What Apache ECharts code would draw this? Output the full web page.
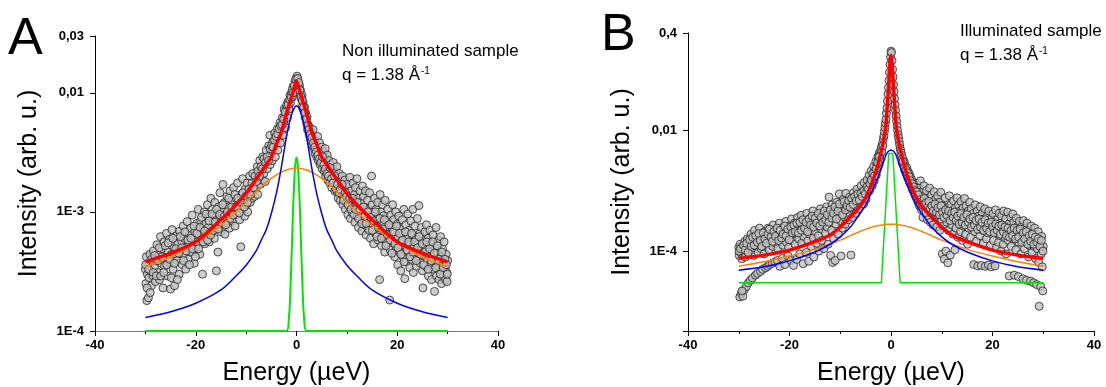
<!DOCTYPE html>
<html>
<head>
<meta charset="utf-8">
<script src="https://cdn.jsdelivr.net/npm/echarts@6/dist/echarts.min.js"></script>
<style>
  html, body { margin: 0; padding: 0; background: #fff; }
  #chart { width: 1106px; height: 387px; }
</style>
</head>
<body>
<div id="chart"></div>
<script>
// ---- panel A (non illuminated) ----
const energyA = [-30, -25, -20, -15, -12, -10, -8, -7, -6, -5, -4, -3, -2, -1.5, -1, -0.5, 0, 0.5, 1, 1.5, 2, 3, 4, 5, 6, 7, 8, 10, 12, 15, 20, 25, 30];
const totalFitA = [3.8e-4, 4.5e-4, 5.6e-4, 8.6e-4, 1.15e-3, 1.43e-3, 1.88e-3, 2.16e-3, 2.5e-3, 2.89e-3, 3.7e-3, 4.7e-3, 6.7e-3, 7.9e-3, 9.2e-3, 1.08e-2, 1.25e-2, 1.08e-2, 9.2e-3, 7.9e-3, 6.7e-3, 4.7e-3, 3.7e-3, 2.89e-3, 2.5e-3, 2.16e-3, 1.88e-3, 1.43e-3, 1.15e-3, 8.6e-4, 5.6e-4, 4.5e-4, 3.8e-4];
const lorentzA = [1.3e-4, 1.45e-4, 1.71e-4, 2.21e-4, 2.9e-4, 3.57e-4, 4.7e-4, 5.8e-4, 7.1e-4, 9.7e-4, 1.43e-3, 2.38e-3, 4.26e-3, 5.4e-3, 6.5e-3, 7.4e-3, 7.8e-3, 7.4e-3, 6.5e-3, 5.4e-3, 4.26e-3, 2.38e-3, 1.43e-3, 9.7e-4, 7.1e-4, 5.8e-4, 4.7e-4, 3.57e-4, 2.9e-4, 2.21e-4, 1.71e-4, 1.45e-4, 1.3e-4];
const broadA = [3.46e-4, 4.2e-4, 5.5e-4, 7.7e-4, 1.0e-3, 1.21e-3, 1.48e-3, 1.62e-3, 1.77e-3, 1.91e-3, 2.05e-3, 2.16e-3, 2.25e-3, 2.28e-3, 2.31e-3, 2.33e-3, 2.34e-3, 2.33e-3, 2.31e-3, 2.28e-3, 2.25e-3, 2.16e-3, 2.05e-3, 1.91e-3, 1.77e-3, 1.62e-3, 1.48e-3, 1.21e-3, 1.0e-3, 7.7e-4, 5.5e-4, 4.2e-4, 3.46e-4];
const elasticEnergyA = [-30, -2, -1.5, -1.25, -1, -0.75, -0.5, -0.25, 0, 0.25, 0.5, 0.75, 1, 1.25, 1.5, 2, 30];
const elasticA = [1e-4, 1e-4, 1.3e-4, 2.0e-4, 4.0e-4, 8.5e-4, 1.65e-3, 2.5e-3, 2.86e-3, 2.5e-3, 1.65e-3, 8.5e-4, 4.0e-4, 2.0e-4, 1.3e-4, 1e-4, 1e-4];
const pointsA = [
  [-30,3.3e-4],[-29.9,2.5e-4],[-29.8,4.2e-4],[-29.7,1.8e-4],[-29.6,3.0e-4],[-29.5,3.7e-4],[-29.4,1.9e-4],[-29.3,2.8e-4],[-29.1,4.4e-4],[-29,3.2e-4],[-28.8,2.4e-4],[-28.7,3.8e-4],[-28.5,2.9e-4],[-28.4,4.7e-4],[-28.2,3.4e-4],[-28,2.6e-4],[-27.9,4.0e-4],
  [-27.7,5.3e-4],[-27.5,3.1e-4],[-27.3,4.4e-4],[-27.2,2.7e-4],[-27,6.2e-4],[-26.8,3.7e-4],[-26.7,4.9e-4],[-26.5,2.3e-4],[-26.3,5.6e-4],[-26.2,3.5e-4],[-26,4.1e-4],[-25.8,6.6e-4],[-25.7,2.9e-4],[-25.5,4.6e-4],[-25.3,3.8e-4],[-25.2,5.9e-4],[-25,2.25e-4],[-24.8,4.4e-4],[-24.7,7.1e-4],[-24.5,3.3e-4],[-24.3,5.0e-4],[-24.2,2.4e-4],[-24,4.2e-4],[-23.8,6.3e-4],[-23.7,3.9e-4],[-23.5,5.4e-4],[-23.3,3.0e-4],[-23.2,6.9e-4],[-23,4.7e-4],[-22.8,5.7e-4],[-22.7,3.6e-4],[-22.5,7.6e-4],[-22.3,4.4e-4],[-22.2,6.0e-4],[-22,3.3e-4],[-21.8,5.1e-4],[-21.7,8.3e-4],[-21.5,4.0e-4],[-21.3,6.5e-4],[-21.2,5.3e-4],[-21,7.3e-4],[-20.8,4.6e-4],[-20.7,9.4e-4],[-20.5,5.9e-4],[-20.3,3.7e-4],[-20.2,6.8e-4],[-20,5.0e-4],
  [-19.8,8.0e-4],[-19.7,5.6e-4],[-19.5,1.05e-3],[-19.3,6.3e-4],[-19.2,4.4e-4],[-19,8.5e-4],[-18.8,5.9e-4],[-18.65,3.0e-4],[-18.5,7.1e-4],[-18.3,1.0e-3],[-18.2,5.4e-4],[-18,8.0e-4],[-17.8,6.6e-4],[-17.7,1.15e-3],[-17.5,7.4e-4],[-17.3,5.6e-4],[-17.2,9.2e-4],[-17,1.3e-3],[-16.8,6.9e-4],[-16.7,1.05e-3],[-16.5,8.3e-4],[-16.3,6.0e-4],[-16.2,1.2e-3],[-16,9.0e-4],[-15.9,3.2e-4],[-15.8,7.5e-4],[-15.6,4.6e-4],[-15.5,1.1e-3],[-15.3,8.6e-4],[-15.2,1.45e-3],[-15,6.8e-4],[-14.8,1.0e-3],[-14.6,1.7e-3],[-14.5,8.0e-4],[-14.3,1.2e-3],[-14.2,6.5e-4],[-14,9.5e-4],[-13.8,1.35e-3],[-13.7,8.2e-4],[-13.5,1.1e-3],[-13.3,7.3e-4],[-13.2,1.5e-3],[-13,9.8e-4],[-12.8,1.25e-3],[-12.7,8.4e-4],[-12.5,1.6e-3],[-12.3,1.05e-3],[-12.2,7.6e-4],[-12,1.3e-3],[-11.8,9.6e-4],[-11.7,1.75e-3],[-11.5,1.15e-3],[-11.3,8.6e-4],[-11.05,5.1e-4],[-11,1.4e-3],[-10.8,1.05e-3],[-10.7,1.9e-3],[-10.5,1.25e-3],[-10.3,9.2e-4],[-10.2,1.55e-3],[-10,1.15e-3],
  [-9.8,1.75e-3],[-9.7,1.0e-3],[-9.5,1.4e-3],[-9.3,2.0e-3],[-9.2,1.2e-3],[-9,1.6e-3],[-8.8,1.3e-3],[-8.7,2.1e-3],[-8.5,1.5e-3],[-8.3,1.35e-3],[-8.2,1.85e-3],[-8,1.6e-3],[-7.8,2.4e-3],[-7.7,1.4e-3],[-7.5,1.95e-3],[-7.3,2.7e-3],[-7.2,1.7e-3],[-7,2.2e-3],[-6.8,1.85e-3],[-6.7,2.9e-3],[-6.5,2.1e-3],[-6.3,2.5e-3],[-6.2,1.8e-3],[-6,3.3e-3],[-5.8,2.3e-3],[-5.7,2.8e-3],[-5.5,3.6e-3],[-5.3,4.4e-3],[-5.2,2.5e-3],[-5,3.1e-3],[-4.8,2.7e-3],[-4.7,3.9e-3],[-4.5,3.3e-3],[-4.3,4.6e-3],[-4.2,2.9e-3],[-4,3.7e-3],[-3.8,5.0e-3],[-3.7,3.3e-3],[-3.5,4.2e-3],[-3.3,5.6e-3],[-3.2,3.8e-3],[-3,4.8e-3],[-2.8,6.2e-3],[-2.7,4.4e-3],[-2.5,5.5e-3],[-2.45,7.3e-3],[-2.3,6.5e-3],[-2.2,5.1e-3],[-2,7.4e-3],[-1.8,6.2e-3],[-1.7,8.4e-3],[-1.5,7.3e-3],[-1.3,9.5e-3],[-1.2,8.2e-3],[-1,1.0e-2],[-0.8,9.2e-3],[-0.7,1.12e-2],[-0.5,1.05e-2],[-0.3,1.25e-2],[-0.2,1.18e-2],[0,1.33e-2],
  [0.1,1.38e-2],[0.2,1.28e-2],[0.3,1.2e-2],[0.5,1.1e-2],[0.6,1.15e-2],[0.7,9.8e-3],[0.8,1.05e-2],[1,8.8e-3],[1.1,9.5e-3],[1.2,7.8e-3],[1.3,8.4e-3],[1.5,7.0e-3],[1.6,7.6e-3],[1.7,6.2e-3],[1.8,6.8e-3],[2,5.6e-3],[2.1,6.3e-3],[2.2,4.9e-3],[2.3,5.4e-3],[2.5,4.5e-3],[2.6,5.1e-3],[2.7,4.2e-3],[2.8,4.7e-3],[3,3.9e-3],[3.1,4.4e-3],[3.2,3.6e-3],[3.3,4.9e-3],[3.5,3.4e-3],[3.6,4.0e-3],[3.7,3.1e-3],[3.8,3.7e-3],[4,2.9e-3],[4.1,3.4e-3],[4.2,4.3e-3],[4.3,2.7e-3],[4.5,3.2e-3],[4.6,3.8e-3],[4.7,2.5e-3],[4.8,2.9e-3],[5,3.5e-3],[5.1,2.3e-3],[5.2,2.7e-3],[5.3,3.2e-3],[5.5,2.2e-3],[5.6,2.9e-3],[5.7,3.4e-3],[5.8,2.0e-3],[6,2.5e-3],[6.1,3.0e-3],[6.2,1.85e-3],[6.3,2.3e-3],[6.5,2.7e-3],[6.6,1.75e-3],[6.7,2.1e-3],[6.8,2.5e-3],[7,1.6e-3],[7.1,1.95e-3],[7.2,2.3e-3],[7.3,2.6e-3],[7.5,1.8e-3],[7.6,1.5e-3],[7.7,2.15e-3],[7.8,1.7e-3],[8,2.4e-3],[8.1,1.45e-3],[8.2,1.9e-3],[8.3,1.3e-3],[8.5,2.1e-3],[8.6,1.6e-3],[8.7,1.25e-3],[8.8,1.8e-3],[9,1.4e-3],[9.1,2.0e-3],[9.2,1.15e-3],[9.3,1.65e-3],[9.5,1.3e-3],[9.6,1.85e-3],[9.7,1.05e-3],[9.8,1.5e-3],
  [10,1.2e-3],[10.1,1.7e-3],[10.2,9.5e-4],[10.3,1.35e-3],[10.5,1.1e-3],[10.6,1.95e-3],[10.7,8.8e-4],[10.8,1.5e-3],[11,1.25e-3],[11.1,9.8e-4],[11.2,1.75e-3],[11.3,1.1e-3],[11.5,1.4e-3],[11.6,8.2e-4],[11.7,1.6e-3],[11.8,1.15e-3],[12,1.9e-3],[12.1,9.2e-4],[12.2,1.3e-3],[12.3,7.4e-4],[12.5,1.05e-3],[12.6,1.5e-3],[12.7,8.5e-4],[12.8,1.2e-3],[13,6.9e-4],[13.1,1.65e-3],[13.2,9.6e-4],[13.3,1.35e-3],[13.5,7.8e-4],[13.6,1.1e-3],[13.7,1.5e-3],[13.8,6.4e-4],[14,9.0e-4],[14.1,1.25e-3],[14.2,7.2e-4],[14.3,1.05e-3],[14.5,1.45e-3],[14.6,8.2e-4],[14.7,6.0e-4],[14.9,2.0e-3],[15,1.15e-3],[15.1,7.6e-4],[15.2,9.6e-4],[15.3,5.4e-4],[15.5,1.3e-3],[15.6,8.6e-4],[15.7,6.6e-4],[15.8,1.05e-3],[16,7.8e-4],[16.1,1.2e-3],[16.2,5.8e-4],[16.3,9.0e-4],[16.5,2.7e-4],[16.6,1.4e-3],[16.7,6.8e-4],[16.8,1.0e-3],[16.9,5.2e-4],[17,8.0e-4],[17.1,1.15e-3],[17.2,6.2e-4],[17.3,9.3e-4],[17.5,4.6e-4],[17.6,1.25e-3],[17.7,7.2e-4],[17.8,5.5e-4],[18,8.5e-4],[18.1,1.05e-3],[18.2,6.5e-4],[18.5,1.82e-4],[18.6,4.8e-4],[18.7,9.4e-4],[19,7.3e-4],[19.1,1.15e-3],[19.2,5.6e-4],[19.3,8.6e-4],[19.5,4.2e-4],[19.6,6.8e-4],[19.7,1.0e-3],[19.8,5.0e-4],
  [20,7.9e-4],[20.1,3.6e-4],[20.2,6.2e-4],[20.3,9.2e-4],[20.5,4.6e-4],[20.6,7.2e-4],[20.7,3.2e-4],[20.8,5.6e-4],[21,8.6e-4],[21.1,4.2e-4],[21.2,6.6e-4],[21.3,1.05e-3],[21.5,2.75e-4],[21.6,5.2e-4],[21.7,7.8e-4],[21.8,3.8e-4],[22,6.0e-4],[22.1,9.6e-4],[22.2,4.6e-4],[22.3,7.0e-4],[22.5,3.4e-4],[22.6,5.4e-4],[22.7,8.4e-4],[22.8,4.0e-4],[23,6.4e-4],[23.1,1.05e-3],[23.2,3.1e-4],[23.3,5.0e-4],[23.5,7.6e-4],[23.6,4.2e-4],[23.7,6.0e-4],[23.8,3.5e-4],[24,8.8e-4],[24.1,5.4e-4],[24.2,4.5e-4],[24.3,1.13e-3],[24.5,6.6e-4],[24.6,3.7e-4],[24.7,5.2e-4],[24.8,7.4e-4],[25,3.2e-4],[25.1,2.3e-4],[25.2,5.8e-4],[25.3,4.3e-4],[25.5,6.8e-4],[25.6,3.5e-4],[25.7,5.0e-4],[25.8,7.8e-4],[26,3.9e-4],[26.1,6.0e-4],[26.2,2.9e-4],[26.3,4.6e-4],[26.5,7.0e-4],[26.6,3.6e-4],[26.7,5.4e-4],[26.8,2.7e-4],[27,4.2e-4],[27.1,6.4e-4],[27.2,3.3e-4],[27.4,2.15e-4],[27.5,5.0e-4],[27.6,3.8e-4],[27.7,7.4e-4],[27.8,2.9e-4],[28,4.6e-4],[28.1,3.5e-4],[28.2,5.8e-4],[28.3,2.7e-4],[28.5,4.2e-4],[28.6,6.2e-4],[28.7,3.2e-4],[28.8,2.5e-4],[29,4.9e-4],[29.1,3.7e-4],[29.2,2.9e-4],[29.3,5.6e-4],[29.5,3.4e-4],[29.6,2.7e-4],[29.7,4.4e-4],[29.8,3.1e-4],[29.9,2.6e-4],[30,3.9e-4],
  [-29.95,3.6e-4],[-29.65,2.3e-4],[-29.35,3.3e-4],[-29.05,2.1e-4],[-28.75,4.0e-4],[-28.45,3.1e-4],[-28.15,4.3e-4],[-27.85,2.9e-4],[-27.55,3.9e-4],[-27.25,5.0e-4],[-26.95,2.9e-4],[-26.65,4.2e-4],[-26.35,3.1e-4],[-26.05,5.2e-4],[-25.75,3.6e-4],[-25.45,5.5e-4],[-25.15,4.0e-4],[-24.85,2.8e-4],[-24.55,6.0e-4],[-24.25,3.7e-4],[-23.95,4.9e-4],[-23.65,2.7e-4],[-23.35,4.5e-4],[-23.05,6.2e-4],[-22.75,5.0e-4],[-22.45,3.9e-4],[-22.15,6.8e-4],[-21.85,4.7e-4],[-21.55,5.8e-4],[-21.25,3.6e-4],[-20.95,6.0e-4],[-20.65,4.9e-4],[-20.35,7.6e-4],[-20.05,4.2e-4],
  [-19.75,6.6e-4],[-19.45,4.9e-4],[-19.15,7.4e-4],[-18.85,9.0e-4],[-18.55,5.6e-4],[-18.25,6.9e-4],[-17.95,9.6e-4],[-17.65,5.8e-4],[-17.35,8.4e-4],[-17.05,6.4e-4],[-16.75,9.6e-4],[-16.45,7.0e-4],[-16.15,8.2e-4],[-15.85,1.05e-3],[-15.55,7.2e-4],[-15.25,9.5e-4],[-14.95,8.2e-4],[-14.65,1.15e-3],[-14.35,9.2e-4],[-14.05,7.8e-4],[-13.75,1.0e-3],[-13.45,1.3e-3],[-13.15,8.8e-4],[-12.85,1.1e-3],[-12.55,9.4e-4],[-12.25,1.4e-3],[-11.95,1.1e-3],[-11.65,1.3e-3],[-11.35,9.8e-4],[-10.95,1.2e-3],[-10.65,1.45e-3],[-10.35,1.1e-3],[-10.05,1.35e-3],[-9.75,1.2e-3],[-9.45,1.55e-3],[-9.15,1.4e-3],[-8.85,1.75e-3],[-8.55,1.6e-3],[-8.25,2.0e-3],[-7.95,1.8e-3],[-7.65,2.2e-3],[-7.35,2.0e-3],[-7.05,2.4e-3],[-6.75,2.3e-3],[-6.45,2.8e-3],[-6.15,2.6e-3],[-5.85,2.9e-3],[-5.55,2.7e-3],[-5.25,3.4e-3],[-4.95,3.6e-3],[-4.65,3.5e-3],[-4.35,4.0e-3],[-4.05,4.3e-3],[-3.75,4.5e-3],[-3.45,5.0e-3],[-3.15,5.3e-3],[-2.85,5.4e-3],[-2.55,6.0e-3],[-2.25,6.9e-3],[-1.95,7.9e-3],[-1.65,8.0e-3],[-1.35,8.8e-3],[-1.05,9.2e-3],[-0.85,1.05e-2],[-0.65,1.0e-2],[-0.45,1.15e-2],[-0.15,1.3e-2],
  [0.25,1.32e-2],[0.45,1.22e-2],[0.65,1.05e-2],[0.9,9.2e-3],[1.15,8.6e-3],[1.4,7.6e-3],[1.65,6.8e-3],[1.95,6.0e-3],[2.15,5.3e-3],[2.45,4.9e-3],[2.75,4.5e-3],[3.05,4.2e-3],[3.35,3.8e-3],[3.65,3.5e-3],[3.95,3.2e-3],[4.25,3.0e-3],[4.55,2.8e-3],[4.85,2.6e-3],[5.15,2.9e-3],[5.45,2.5e-3],[5.75,2.3e-3],[6.05,2.1e-3],[6.35,2.0e-3],[6.65,2.35e-3],[6.95,1.9e-3],[7.25,1.75e-3],[7.55,2.0e-3],[7.85,1.55e-3],[8.15,1.7e-3],[8.45,1.45e-3],[8.75,1.55e-3],[9.05,1.7e-3],[9.35,1.25e-3],[9.65,1.45e-3],[9.95,1.35e-3],[10.25,1.15e-3],[10.55,1.3e-3],[10.85,1.05e-3],[11.15,1.3e-3],[11.45,9.5e-4],[11.75,1.05e-3],[12.05,1.2e-3],[12.35,8.8e-4],[12.65,1.05e-3],[12.95,8.0e-4],[13.25,1.1e-3],[13.55,9.2e-4],[13.85,8.0e-4],[14.15,1.0e-3],[14.45,7.0e-4],[14.75,9.0e-4],[15.05,7.0e-4],[15.35,8.4e-4],[15.65,1.0e-3],[15.95,6.2e-4],[16.25,7.4e-4],[16.55,8.8e-4],[16.85,6.0e-4],[17.15,7.2e-4],[17.45,8.6e-4],[17.75,5.2e-4],[18.05,6.4e-4],[18.35,7.8e-4],[18.65,5.8e-4],[18.95,4.5e-4],[19.25,6.8e-4],[19.55,5.4e-4],[19.85,7.6e-4],[20.15,5.0e-4],[20.45,6.6e-4],[20.75,4.4e-4],[21.05,5.8e-4],[21.35,3.8e-4],[21.65,6.8e-4],[21.95,4.8e-4],[22.25,5.6e-4],[22.55,4.2e-4],[22.85,6.6e-4],[23.15,4.6e-4],[23.45,5.6e-4],[23.75,3.9e-4],[24.05,5.0e-4],[24.35,6.2e-4],[24.65,4.4e-4],[24.95,5.4e-4],[25.25,3.6e-4],[25.55,4.6e-4],[25.85,5.6e-4],[26.15,3.3e-4],[26.45,4.9e-4],[26.75,3.9e-4],[27.05,5.6e-4],[27.35,4.5e-4],[27.65,3.4e-4],[27.95,5.2e-4],[28.25,4.0e-4],[28.55,3.0e-4],[28.85,4.6e-4],[29.15,3.4e-4],[29.45,4.0e-4],[29.75,3.6e-4],[29.95,3.0e-4]
];
const tickValsA = [1e-4, 1e-3, 1e-2, 0.03];
const tickTextA = ['1E-4', '1E-3', '0,01', '0,03'];

// ---- panel B (illuminated) ----
const energyB = [-30, -25, -20, -15, -12, -10, -8, -7, -6, -5, -4, -3, -2, -1.5, -1, -0.75, -0.5, -0.25, 0, 0.25, 0.5, 0.75, 1, 1.5, 2, 3, 4, 5, 6, 7, 8, 10, 12, 15, 20, 25, 30];
const totalFitB = [7.6e-5, 8.6e-5, 1.04e-4, 1.43e-4, 1.85e-4, 2.5e-4, 3.7e-4, 4.5e-4, 5.7e-4, 7.6e-4, 1.18e-3, 2.0e-3, 4.2e-3, 6.5e-3, 1.2e-2, 2.4e-2, 5.0e-2, 1.1e-1, 1.7e-1, 1.1e-1, 5.0e-2, 2.4e-2, 1.2e-2, 6.5e-3, 4.2e-3, 2.0e-3, 1.18e-3, 7.6e-4, 5.7e-4, 4.5e-4, 3.7e-4, 2.5e-4, 1.85e-4, 1.43e-4, 1.04e-4, 8.6e-5, 7.6e-5];
const lorentzB = [4.85e-5, 5.5e-5, 6.9e-5, 9.7e-5, 1.3e-4, 1.72e-4, 2.5e-4, 3.25e-4, 4.3e-4, 5.75e-4, 8.7e-4, 1.32e-3, 2.18e-3, 2.9e-3, 3.87e-3, 4.2e-3, 4.45e-3, 4.6e-3, 4.66e-3, 4.6e-3, 4.45e-3, 4.2e-3, 3.87e-3, 2.9e-3, 2.18e-3, 1.32e-3, 8.7e-4, 5.75e-4, 4.3e-4, 3.25e-4, 2.5e-4, 1.72e-4, 1.3e-4, 9.7e-5, 6.9e-5, 5.5e-5, 4.85e-5];
const broadB = [5.65e-5, 6.7e-5, 8.3e-5, 1.07e-4, 1.32e-4, 1.52e-4, 1.8e-4, 1.96e-4, 2.13e-4, 2.29e-4, 2.45e-4, 2.59e-4, 2.68e-4, 2.73e-4, 2.76e-4, 2.78e-4, 2.79e-4, 2.79e-4, 2.79e-4, 2.79e-4, 2.79e-4, 2.78e-4, 2.76e-4, 2.73e-4, 2.68e-4, 2.59e-4, 2.45e-4, 2.29e-4, 2.13e-4, 1.96e-4, 1.8e-4, 1.52e-4, 1.32e-4, 1.07e-4, 8.3e-5, 6.7e-5, 5.65e-5];
const elasticEnergyB = [-30, -1.9, -0.45, 0.35, 1.8, 30];
const elasticB = [3e-5, 3e-5, 4.1e-3, 4.1e-3, 3e-5, 3e-5];
const pointsB = [
  [-30,1.15e-4],[-29.9,8.5e-5],[-29.8,1.75e-5],[-29.7,1.3e-4],[-29.6,9.5e-5],[-29.5,2.0e-5],[-29.4,7.5e-5],[-29.3,1.2e-4],[-29.2,1.8e-5],[-29,1.0e-4],[-28.9,2.3e-5],[-28.8,1.45e-4],[-28.7,8.0e-5],[-28.5,2.6e-5],[-28.4,1.1e-4],[-28.3,1.6e-4],[-28.1,3.0e-5],[-28,9.0e-5],[-27.9,1.3e-4],[-27.7,3.3e-5],[-27.6,1.9e-4],[-27.5,1.05e-4],[-27.3,3.6e-5],[-27.2,1.4e-4],[-27,8.5e-5],[-26.9,2.2e-4],[-26.7,4.0e-5],[-26.6,1.2e-4],[-26.5,1.65e-4],[-26.3,4.3e-5],[-26.2,9.5e-5],[-26,1.35e-4],[-25.9,2.4e-4],[-25.7,4.6e-5],[-25.6,1.1e-4],[-25.5,1.8e-4],[-25.3,5.0e-5],[-25.2,1.45e-4],[-25,9.0e-5],[-24.9,2.1e-4],[-24.7,5.3e-5],[-24.6,1.25e-4],[-24.5,1.7e-4],[-24.3,5.6e-5],[-24.2,2.4e-4],[-24,1.05e-4],[-23.9,6.0e-5],[-23.7,1.5e-4],[-23.6,2.0e-4],[-23.4,6.3e-5],[-23.3,1.2e-4],[-23.2,2.7e-4],[-23,1.65e-4],[-22.9,6.6e-5],[-22.7,1.35e-4],[-22.6,2.2e-4],[-22.4,7.0e-5],[-22.3,1.1e-4],[-22.2,1.8e-4],[-22,2.9e-4],[-21.9,5.6e-5],[-21.7,1.45e-4],[-21.6,2.0e-4],[-21.4,7.6e-5],[-21.3,1.25e-4],[-21.2,2.5e-4],[-21,1.7e-4],[-20.9,6.0e-5],[-20.7,3.1e-4],[-20.6,1.4e-4],[-20.4,2.1e-4],[-20.3,8.3e-5],[-20.2,1.15e-4],[-20,2.6e-4],
  [-19.9,1.8e-4],[-19.7,7.0e-5],[-19.6,3.4e-4],[-19.5,1.5e-4],[-19.3,2.2e-4],[-19.2,5.8e-5],[-19,2.9e-4],[-18.9,1.3e-4],[-18.7,1.9e-4],[-18.6,7.3e-5],[-18.4,3.6e-4],[-18.3,2.4e-4],[-18.2,1.6e-4],[-18,9.0e-5],[-17.9,2.0e-4],[-17.7,3.9e-4],[-17.6,1.35e-4],[-17.4,2.7e-4],[-17.3,6.2e-5],[-17.2,1.75e-4],[-17,3.2e-4],[-16.9,2.2e-4],[-16.7,9.5e-5],[-16.6,4.2e-4],[-16.4,1.5e-4],[-16.3,2.6e-4],[-16.2,6.8e-5],[-16,1.9e-4],[-15.9,3.5e-4],[-15.7,1.2e-4],[-15.6,2.4e-4],[-15.4,4.6e-4],[-15.3,1.65e-4],[-15.2,8.0e-5],[-15,3.0e-4],[-14.9,2.1e-4],[-14.7,1.35e-4],[-14.6,3.8e-4],[-14.4,2.6e-4],[-14.3,1.8e-4],[-14.2,1.0e-4],[-14,3.3e-4],[-13.9,5.0e-4],[-13.7,2.3e-4],[-13.6,1.5e-4],[-13.4,4.1e-4],[-13.3,2.8e-4],[-13.2,1.1e-4],[-13,3.6e-4],[-12.9,2.0e-4],[-12.7,5.4e-4],[-12.6,2.5e-4],[-12.4,1.3e-4],[-12.3,4.4e-4],[-12.2,7.8e-4],[-12,3.1e-4],[-11.9,8.5e-5],[-11.7,2.2e-4],[-11.6,5.8e-4],[-11.5,6.5e-5],[-11.4,3.6e-4],[-11.3,1.6e-4],[-11.2,4.7e-4],[-11,7.0e-5],[-10.9,2.8e-4],[-10.7,6.4e-4],[-10.6,3.9e-4],[-10.4,1.9e-4],[-10.3,5.2e-4],[-10.2,8.8e-4],[-10,3.2e-4],
  [-9.85,8.3e-5],[-9.7,4.5e-4],[-9.6,2.4e-4],[-9.4,7.2e-4],[-9.3,3.7e-4],[-9.2,5.6e-4],[-9,2.8e-4],[-8.9,9.0e-4],[-8.7,4.2e-4],[-8.6,6.3e-4],[-8.4,3.3e-4],[-8.3,5.0e-4],[-8.2,7.8e-4],[-8,4.0e-4],[-7.9,8.6e-5],[-7.7,6.0e-4],[-7.6,3.6e-4],[-7.4,9.2e-4],[-7.3,4.8e-4],[-7.2,7.0e-4],[-7,5.6e-4],[-6.9,4.2e-4],[-6.7,1.05e-3],[-6.6,6.5e-4],[-6.4,5.0e-4],[-6.3,8.2e-4],[-6,6.2e-4],[-5.9,1.2e-3],[-5.7,7.4e-4],[-5.6,9.5e-4],[-5.4,6.0e-4],[-5.3,1.35e-3],[-5.2,8.5e-4],[-5,1.05e-3],[-4.9,7.2e-4],[-4.7,1.5e-3],[-4.6,9.5e-4],[-4.4,1.2e-3],[-4.3,1.8e-3],[-4.2,1.0e-3],[-4,1.4e-3],[-3.9,2.1e-3],[-3.7,1.2e-3],[-3.6,1.65e-3],[-3.4,2.5e-3],[-3.3,1.45e-3],[-3.2,2.0e-3],[-3,3.0e-3],[-2.9,1.8e-3],[-2.7,2.5e-3],[-2.6,3.6e-3],[-2.4,2.9e-3],[-2.3,4.2e-3],[-2.2,3.3e-3],[-2.1,4.0e-3],[-2,4.6e-3],[-1.9,5.2e-3],[-1.8,4.4e-3],[-1.7,6.0e-3],[-1.6,5.5e-3],[-1.5,7.2e-3],[-1.4,8.0e-3],[-1.3,9.5e-3],[-1.2,1.1e-2],[-1.1,1.3e-2],[-1,1.5e-2],[-0.9,1.9e-2],[-0.8,2.3e-2],[-0.7,3.0e-2],[-0.6,3.9e-2],[-0.5,5.0e-2],[-0.4,6.6e-2],[-0.3,9.0e-2],[-0.2,0.12],[-0.1,0.16],[0,0.2],
  [0.1,0.19],[0.2,0.14],[0.3,0.1],[0.4,7.5e-2],[0.5,5.6e-2],[0.6,4.3e-2],[0.7,3.3e-2],[0.8,2.6e-2],[0.9,2.1e-2],[1,1.7e-2],[1.1,1.4e-2],[1.2,1.15e-2],[1.3,9.8e-3],[1.4,8.4e-3],[1.5,7.4e-3],[1.6,6.5e-3],[1.7,5.7e-3],[1.8,5.0e-3],[1.9,4.6e-3],[2,4.2e-3],[2.1,3.8e-3],[2.2,2.9e-3],[2.3,3.4e-3],[2.5,2.6e-3],[2.6,3.0e-3],[2.7,2.2e-3],[2.8,2.6e-3],[3,2.0e-3],[3.1,2.4e-3],[3.2,1.75e-3],[3.3,2.1e-3],[3.5,1.55e-3],[3.6,1.9e-3],[3.7,1.35e-3],[3.8,1.7e-3],[4,1.2e-3],[4.1,1.5e-3],[4.2,1.05e-3],[4.3,1.35e-3],[4.5,9.5e-4],[4.6,1.2e-3],[4.7,8.4e-4],[4.8,1.05e-3],[5,7.5e-4],[5.1,1.3e-3],[5.2,9.0e-4],[5.3,6.5e-4],[5.5,1.1e-3],[5.6,5.6e-4],[5.7,8.0e-4],[5.8,1.45e-3],[6,4.8e-4],[6.1,9.5e-4],[6.2,6.8e-4],[6.3,3.6e-4],[6.5,1.2e-3],[6.6,5.5e-4],[6.7,8.2e-4],[6.8,4.2e-4],[7,1.0e-3],[7.1,6.2e-4],[7.2,3.3e-4],[7.3,7.4e-4],[7.5,4.8e-4],[7.6,1.1e-3],[7.7,5.6e-4],[7.8,3.0e-4],[8,8.5e-4],[8.1,4.2e-4],[8.2,6.4e-4],[8.3,2.7e-4],[8.5,9.6e-4],[8.6,5.0e-4],[8.7,3.6e-4],[8.8,7.2e-4],[9,2.5e-4],[9.1,5.6e-4],[9.2,8.2e-4],[9.3,3.9e-4],[9.5,6.4e-4],[9.6,2.2e-4],[9.7,4.6e-4],[9.8,9.4e-4],
  [10,3.3e-4],[10.1,9.0e-5],[10.2,5.6e-4],[10.3,2.6e-4],[10.5,7.4e-5],[10.6,4.2e-4],[10.7,7.6e-4],[10.8,1.0e-4],[11,3.0e-4],[11.1,5.2e-4],[11.2,6.4e-5],[11.3,2.2e-4],[11.5,8.2e-4],[11.6,3.8e-4],[11.7,8.6e-5],[11.8,5.8e-4],[12,2.7e-4],[12.1,4.6e-4],[12.2,1.9e-4],[12.3,6.8e-4],[12.5,3.4e-4],[12.6,1.05e-4],[12.7,5.2e-4],[12.8,2.4e-4],[13,7.6e-4],[13.1,4.0e-4],[13.2,1.7e-4],[13.3,5.8e-4],[13.5,3.0e-4],[13.6,4.6e-4],[13.7,2.1e-4],[13.8,6.6e-4],[14,3.6e-4],[14.1,1.5e-4],[14.2,5.2e-4],[14.3,2.6e-4],[14.5,7.4e-4],[14.6,4.0e-4],[14.7,1.9e-4],[14.8,5.6e-4],[15,3.2e-4],[15.1,1.3e-4],[15.2,4.6e-4],[15.3,2.4e-4],[15.5,6.4e-4],[15.6,3.6e-4],[15.7,1.7e-4],[15.8,5.0e-4],[16,2.8e-4],[16.2,4.2e-4],[16.3,6.0e-5],[16.5,2.1e-4],[16.6,5.8e-4],[16.7,3.2e-4],[16.8,1.45e-4],[17,4.6e-4],[17.1,5.7e-5],[17.2,2.5e-4],[17.3,3.8e-4],[17.5,1.8e-4],[17.6,5.4e-4],[17.7,2.9e-4],[17.8,5.8e-5],[18,4.2e-4],[18.1,2.2e-4],[18.2,1.35e-4],[18.3,3.4e-4],[18.5,5.0e-4],[18.6,5.6e-5],[18.7,2.6e-4],[18.8,1.6e-4],[19,3.8e-4],[19.1,2.0e-4],[19.2,5.9e-5],[19.3,4.6e-4],[19.5,2.9e-4],[19.6,1.25e-4],[19.7,3.4e-4],[19.8,5.5e-5],
  [20,2.3e-4],[20.1,4.2e-4],[20.2,1.5e-4],[20.3,3.0e-4],[20.5,5.7e-5],[20.6,4.8e-4],[20.7,2.0e-4],[20.8,1.15e-4],[21,3.4e-4],[21.1,2.5e-4],[21.2,1.4e-4],[21.3,4.2e-4],[21.5,1.8e-4],[21.6,2.9e-4],[21.7,1.0e-4],[21.8,3.8e-4],[22,2.2e-4],[22.1,1.3e-4],[22.2,4.6e-4],[22.3,2.6e-4],[22.5,1.65e-4],[22.6,3.4e-4],[22.7,9.0e-5],[22.8,2.1e-4],[23,4.4e-4],[23.1,1.5e-4],[23.2,2.8e-4],[23.3,3.9e-5],[23.5,1.9e-4],[23.6,3.6e-4],[23.7,1.2e-4],[23.8,2.4e-4],[24,4.1e-4],[24.1,1.6e-4],[24.2,3.0e-4],[24.3,4.0e-5],[24.5,2.1e-4],[24.6,1.05e-4],[24.7,3.5e-4],[24.8,1.8e-4],[25,2.6e-4],[25.1,3.8e-5],[25.2,1.4e-4],[25.3,3.1e-4],[25.5,2.0e-4],[25.6,9.0e-5],[25.7,2.5e-4],[25.8,1.5e-4],[26,3.5e-5],[26.1,3.2e-4],[26.2,1.8e-4],[26.3,1.1e-4],[26.5,2.4e-4],[26.6,1.4e-4],[26.7,3.3e-5],[26.8,2.9e-4],[27,1.65e-4],[27.1,8.0e-5],[27.2,2.2e-4],[27.3,1.25e-4],[27.5,3.2e-5],[27.6,2.6e-4],[27.7,1.5e-4],[27.8,9.5e-5],[28,2.0e-4],[28.1,3.0e-5],[28.2,1.2e-4],[28.3,2.4e-4],[28.5,7.5e-5],[28.6,1.6e-4],[28.7,2.8e-5],[28.8,1.1e-4],[29,2.1e-4],[29.1,6.5e-5],[29.2,1.23e-5],[29.3,1.4e-4],[29.5,2.6e-5],[29.6,9.0e-5],[29.7,1.75e-4],[29.8,5.5e-5],[29.9,2.2e-5],[30,1.2e-4],
  [-29.95,1.0e-4],[-29.65,1.1e-4],[-29.35,2.2e-5],[-29.05,1.25e-4],[-28.75,1.05e-4],[-28.45,1.35e-4],[-28.15,9.5e-5],[-27.85,1.55e-4],[-27.55,1.2e-4],[-27.25,1.7e-4],[-26.95,1.25e-4],[-26.65,1.8e-4],[-26.35,1.4e-4],[-26.05,1.95e-4],[-25.75,1.5e-4],[-25.45,1.2e-4],[-25.15,2.0e-4],[-24.85,1.6e-4],[-24.55,1.35e-4],[-24.25,1.9e-4],[-23.95,2.3e-4],[-23.65,1.7e-4],[-23.35,1.45e-4],[-23.05,2.1e-4],[-22.75,1.75e-4],[-22.45,2.4e-4],[-22.15,1.5e-4],[-21.85,2.2e-4],[-21.55,1.65e-4],[-21.25,1.9e-4],[-20.95,2.6e-4],[-20.65,1.8e-4],[-20.35,2.3e-4],[-20.05,1.55e-4],[-19.75,2.5e-4],[-19.45,2.0e-4],[-19.15,2.7e-4],[-18.85,2.1e-4],[-18.55,2.9e-4],[-18.25,2.0e-4],[-17.95,3.0e-4],[-17.65,2.2e-4],[-17.35,3.3e-4],[-17.05,2.4e-4],[-16.75,3.0e-4],[-16.45,2.1e-4],[-16.15,3.4e-4],[-15.85,2.7e-4],[-15.55,3.8e-4],[-15.25,2.5e-4],[-14.95,3.5e-4],[-14.65,2.9e-4],[-14.35,4.2e-4],[-14.05,2.6e-4],[-13.75,3.6e-4],[-13.45,3.0e-4],[-13.15,4.6e-4],[-12.85,3.3e-4],[-12.55,4.0e-4],[-12.25,3.0e-4],[-11.95,4.8e-4],[-11.65,3.5e-4],[-11.35,4.2e-4],[-11.05,5.4e-4],[-10.75,3.4e-4],[-10.45,4.6e-4],[-10.15,6.0e-4],[-9.55,4.0e-4],[-9.25,6.6e-4],[-8.95,4.8e-4],[-8.65,5.6e-4],[-8.35,6.8e-4],[-8.05,5.3e-4],[-7.75,7.4e-4],[-7.45,5.9e-4],[-7.15,8.0e-4],[-6.85,6.8e-4],[-6.55,8.8e-4],[-6.25,7.0e-4],[-5.95,9.0e-4],[-5.65,8.0e-4],[-5.35,1.0e-3],[-5.05,8.8e-4],[-4.75,1.15e-3],[-4.45,1.05e-3],[-4.15,1.3e-3],[-3.85,1.5e-3],[-3.55,1.9e-3],[-3.25,1.75e-3],[-2.95,2.3e-3],[-2.65,2.9e-3],[-2.35,3.6e-3],
  [2.35,3.0e-3],[2.65,2.4e-3],[2.95,2.2e-3],[3.25,1.95e-3],[3.55,1.7e-3],[3.85,1.45e-3],[4.15,1.3e-3],[4.45,1.15e-3],[4.75,1.0e-3],[5.05,9.5e-4],[5.35,8.5e-4],[5.65,7.0e-4],[5.95,6.5e-4],[6.25,5.8e-4],[6.55,7.4e-4],[6.85,6.2e-4],[7.15,5.2e-4],[7.45,6.6e-4],[7.75,5.0e-4],[8.05,5.6e-4],[8.35,4.6e-4],[8.65,6.0e-4],[8.95,4.4e-4],[9.25,5.2e-4],[9.55,4.0e-4],[9.85,5.6e-4],[10.15,4.4e-4],[10.45,3.6e-4],[10.75,4.8e-4],[11.05,3.9e-4],[11.35,4.6e-4],[11.65,3.2e-4],[11.95,4.2e-4],[12.25,3.6e-4],[12.55,4.4e-4],[12.85,3.2e-4],[13.15,3.8e-4],[13.45,2.8e-4],[13.75,4.2e-4],[14.05,3.0e-4],[14.35,3.6e-4],[14.65,2.7e-4],[14.95,4.0e-4],[15.25,3.0e-4],[15.55,3.4e-4],[15.85,2.5e-4],[16.15,3.6e-4],[16.45,2.7e-4],[16.75,3.2e-4],[17.05,2.3e-4],[17.35,3.4e-4],[17.65,2.5e-4],[17.95,3.0e-4],[18.25,2.2e-4],[18.55,3.3e-4],[18.85,2.4e-4],[19.15,2.9e-4],[19.45,2.1e-4],[19.75,3.0e-4],[20.05,2.5e-4],[20.35,2.0e-4],[20.65,2.8e-4],[20.95,2.2e-4],[21.25,2.6e-4],[21.55,1.9e-4],[21.85,2.7e-4],[22.15,2.1e-4],[22.45,2.5e-4],[22.75,1.8e-4],[23.05,2.4e-4],[23.35,1.7e-4],[23.65,2.2e-4],[23.95,1.8e-4],[24.25,2.4e-4],[24.55,1.6e-4],[24.85,2.2e-4],[25.15,1.7e-4],[25.45,2.3e-4],[25.75,1.4e-4],[26.05,2.0e-4],[26.35,1.6e-4],[26.65,2.1e-4],[26.95,1.3e-4],[27.25,1.8e-4],[27.55,1.45e-4],[27.85,1.9e-4],[28.15,1.3e-4],[28.45,1.7e-4],[28.75,1.4e-4],[29.05,1.6e-4],[29.35,1.2e-4],[29.65,1.5e-4],[29.95,1.0e-4]
];
const tickValsB = [1e-4, 1e-2, 0.4];
const tickTextB = ['1E-4', '0,01', '0,4'];

const font = 'Liberation Sans, Arial, sans-serif';

function logLabel(vals, texts) {
  return v => {
    const i = vals.findIndex(t => Math.abs(Math.log10(v / t)) < 0.01);
    return i < 0 ? '' : texts[i];
  };
}

function xAxisFor(gridIndex, lineColor) {
  return {
    gridIndex, type: 'value', min: -40, max: 40, interval: 20,
    name: 'Energy (µeV)', nameLocation: 'middle', nameGap: 30,
    nameTextStyle: {fontFamily: font, fontSize: 25, color: '#000'},
    axisLine: {onZero: false, lineStyle: {color: lineColor, width: 1}},
    axisTick: {length: 5, lineStyle: {color: '#000'}},
    minorTick: {show: true, splitNumber: 2, length: 3, lineStyle: {color: '#000'}},
    axisLabel: {fontFamily: font, fontSize: 13, fontWeight: 'bold', color: '#000', margin: 8},
    splitLine: {show: false}
  };
}

function yAxisFor(gridIndex, base, min, max, vals, texts) {
  return {
    gridIndex, type: 'log', logBase: base, min, max,
    name: 'Intensity (arb. u.)', nameLocation: 'middle', nameGap: 53,
    nameTextStyle: {fontFamily: font, fontSize: 25, color: '#000'},
    axisLine: {show: true, onZero: false, lineStyle: {color: '#000', width: 1}},
    axisTick: {length: 5, lineStyle: {color: '#000'}},
    axisLabel: {fontFamily: font, fontSize: 13, fontWeight: 'bold', color: '#000', margin: 11,
      formatter: logLabel(vals, texts)},
    splitLine: {show: false}
  };
}

function curve(xs, ys, idx, color, width, opts) {
  return Object.assign({
    type: 'line', xAxisIndex: idx, yAxisIndex: idx,
    data: xs.map((e, i) => [e, ys[i]]),
    showSymbol: false, smooth: 0.3,
    lineStyle: {color, width}, z: 3
  }, opts || {});
}

function dots(points, idx) {
  return {
    type: 'scatter', xAxisIndex: idx, yAxisIndex: idx, data: points,
    symbolSize: 8,
    itemStyle: {color: '#c2c2c2', borderColor: '#222', borderWidth: 1},
    z: 2
  };
}

const chart = echarts.init(document.getElementById('chart'));
chart.setOption({
  animation: false,
  backgroundColor: '#fff',
  grid: [
    {left: 95, top: 36, width: 403, height: 295, containLabel: false, outerBoundsMode: 'none'},
    {left: 688, top: 33, width: 406, height: 298, containLabel: false, outerBoundsMode: 'none'}
  ],
  xAxis: [xAxisFor(0, '#777'), xAxisFor(1, '#000')],
  yAxis: [
    yAxisFor(0, 10, 1e-4, 0.03, tickValsA, tickTextA),
    yAxisFor(1, 100, 4.8e-6, 0.4, tickValsB, tickTextB)
  ],
  series: [
    dots(pointsA, 0),
    curve(elasticEnergyA, elasticA, 0, '#00e600', 2, {clip: false}),
    curve(energyA, broadA, 0, '#ff8000', 1.5),
    curve(energyA, lorentzA, 0, '#0000ff', 1.5),
    curve(energyA, totalFitA, 0, '#ff0000', 3.5),
    dots(pointsB, 1),
    curve(elasticEnergyB, elasticB, 1, '#00e600', 1.5, {smooth: false}),
    curve(energyB, broadB, 1, '#ff8000', 1.5),
    curve(energyB, lorentzB, 1, '#0000ff', 1.5),
    curve(energyB, totalFitB, 1, '#ff0000', 3.5)
  ],
  graphic: [
    {type: 'text', left: 8, top: 14, style: {text: 'A', font: '52px ' + font, fill: '#000'}},
    {type: 'text', left: 601, top: 10, style: {text: 'B', font: '52px ' + font, fill: '#000'}},
    {type: 'text', left: 342, top: 43, style: {text: 'Non illuminated sample', font: '17px ' + font, fill: '#000'}},
    {type: 'text', left: 342, top: 66, style: {
      text: 'q = 1.38 Å{s|-1}', font: '17px ' + font, fill: '#000',
      rich: {s: {fontSize: 10, fontFamily: font, verticalAlign: 'top', padding: [0, 0, 8, 1]}}}},
    {type: 'text', left: 960, top: 23, style: {text: 'Illuminated sample', font: '17px ' + font, fill: '#000'}},
    {type: 'text', left: 960, top: 46, style: {
      text: 'q = 1.38 Å{s|-1}', font: '17px ' + font, fill: '#000',
      rich: {s: {fontSize: 10, fontFamily: font, verticalAlign: 'top', padding: [0, 0, 8, 1]}}}}
  ]
});
</script>
</body>
</html>
